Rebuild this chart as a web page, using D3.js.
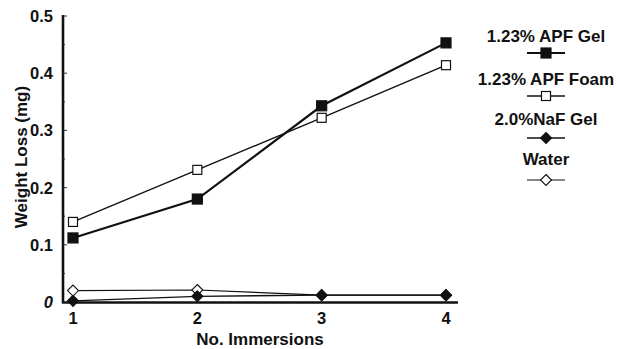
<!DOCTYPE html>
<html>
<head>
<meta charset="utf-8">
<script src="https://cdn.jsdelivr.net/npm/d3@7"></script>
<style>
  body { margin: 0; background: #fff; }
  text { font-family: "Liberation Sans", Arial, sans-serif; font-weight: bold; fill: #111; }
</style>
</head>
<body>
<svg id="chart" width="618" height="349"></svg>
<script>
// data
const immersions = [1, 2, 3, 4];
const apfGel = [0.112, 0.18, 0.343, 0.453];
const apfFoam = [0.14, 0.231, 0.322, 0.414];
const nafGel = [0.002, 0.01, 0.012, 0.012];
const water = [0.02, 0.021, 0.012, 0.012];
const yTicks = [0, 0.1, 0.2, 0.3, 0.4, 0.5];
const seriesNames = ["1.23% APF Gel", "1.23% APF Foam", "2.0%NaF Gel", "Water"];

const series = [
  { name: seriesNames[0], values: apfGel, shape: "square", fill: "#111", size: 10, width: 2.2 },
  { name: seriesNames[1], values: apfFoam, shape: "square", fill: "#fff", size: 9, width: 1.4 },
  { name: seriesNames[2], values: nafGel, shape: "diamond", fill: "#111", size: 10, width: 1.3 },
  { name: seriesNames[3], values: water, shape: "diamond", fill: "#fff", size: 10, width: 1.2 },
];

const svg = d3.select("#chart");
const x = d3.scaleLinear().domain([1, 4]).range([73, 446]);
const y = d3.scaleLinear().domain([0, 0.5]).range([302, 16]);

// axes
svg.append("line").attr("x1", 63).attr("x2", 63).attr("y1", 15).attr("y2", 303)
  .attr("stroke", "#111").attr("stroke-width", 2.6);
svg.append("line").attr("x1", 62).attr("x2", 458).attr("y1", 302.5).attr("y2", 302.5)
  .attr("stroke", "#111").attr("stroke-width", 2.6);

// y ticks (inside) + minor
svg.append("g").selectAll("line").data(d3.range(0, 0.51, 0.05))
  .join("line")
  .attr("x1", 63).attr("x2", (d, i) => i % 2 ? 65 : 67)
  .attr("y1", d => y(d)).attr("y2", d => y(d))
  .attr("stroke", "#333").attr("stroke-width", 1);

svg.append("g").selectAll("text").data(yTicks)
  .join("text")
  .attr("x", 53).attr("y", d => y(d) + 6)
  .attr("text-anchor", "end")
  .attr("font-size", 16.5)
  .style("font-style", d => d === 0 ? "italic" : "normal")
  .text(d => d === 0 ? "0" : d3.format(".1f")(d));

svg.append("g").selectAll("text").data(immersions)
  .join("text")
  .attr("x", d => x(d)).attr("y", 324)
  .attr("text-anchor", "middle").attr("font-size", 16.5)
  .text(d => d);

svg.append("text").attr("x", 260).attr("y", 345).attr("text-anchor", "middle")
  .attr("font-size", 17).text("No. Immersions");
svg.append("text").attr("transform", "translate(27,157) rotate(-90)")
  .attr("text-anchor", "middle").attr("font-size", 17).text("Weight Loss (mg)");

function marker(g, s, cx, cy) {
  if (s.shape === "square") {
    g.append("rect").attr("x", cx - s.size / 2).attr("y", cy - s.size / 2)
      .attr("width", s.size).attr("height", s.size)
      .attr("fill", s.fill).attr("stroke", "#111").attr("stroke-width", 1.2);
  } else {
    const r = s.size / 2 + 0.5;
    g.append("path").attr("d", `M${cx},${cy - r}L${cx + r},${cy}L${cx},${cy + r}L${cx - r},${cy}Z`)
      .attr("fill", s.fill).attr("stroke", "#111").attr("stroke-width", 1.1);
  }
}

const line = d3.line().x((d, i) => x(immersions[i])).y(d => y(d));

// draw back to front: water, naf, foam, gel
[3, 2, 1, 0].forEach(k => {
  const s = series[k];
  const g = svg.append("g");
  g.append("path").attr("d", line(s.values)).attr("fill", "none")
    .attr("stroke", "#111").attr("stroke-width", s.width);
  s.values.forEach((v, i) => marker(g, s, x(immersions[i]), y(v)));
});

// legend
const lx = 546;
const legendText = [42, 85, 125, 165];
const legendMark = [53, 96, 138, 180];
series.forEach((s, i) => {
  const g = svg.append("g");
  g.append("text").attr("x", lx).attr("y", legendText[i]).attr("text-anchor", "middle")
    .attr("font-size", 17).text(s.name);
  const my = legendMark[i];
  g.append("line").attr("x1", lx - 19).attr("x2", lx + 19).attr("y1", my).attr("y2", my)
    .attr("stroke", "#111").attr("stroke-width", s.width);
  marker(g, s, lx, my);
});
</script>
</body>
</html>
